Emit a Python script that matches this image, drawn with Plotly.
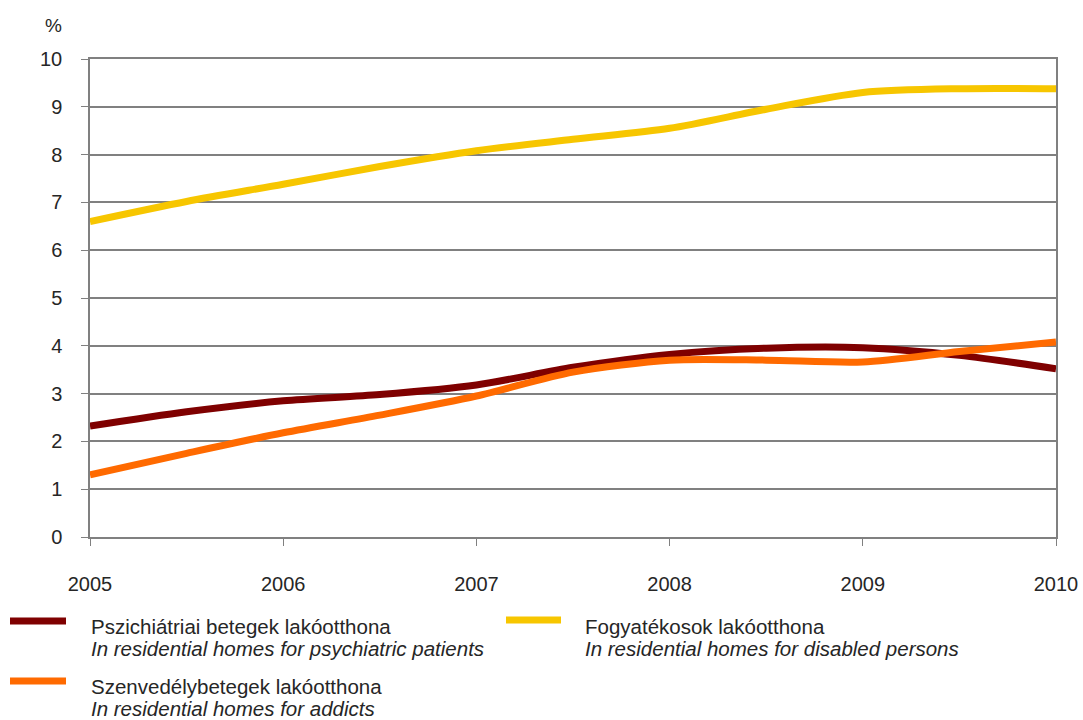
import plotly.graph_objects as go

years = [2005, 2005.5, 2006, 2006.5, 2007, 2007.5, 2008, 2008.5, 2009, 2009.5, 2010]

psychiatric = [2.32, 2.62, 2.85, 2.98, 3.18, 3.55, 3.82, 3.95, 3.96, 3.8, 3.52]
disabled = [6.6, 7.02, 7.38, 7.75, 8.08, 8.32, 8.55, 8.95, 9.3, 9.38, 9.38]
addicts = [1.3, 1.75, 2.18, 2.55, 2.95, 3.45, 3.7, 3.7, 3.66, 3.88, 4.08]

names_hu = ["Pszichiátriai betegek lakóotthona", "Fogyatékosok lakóotthona", "Szenvedélybetegek lakóotthona"]
names_en = [
    "In residential homes for psychiatric patients",
    "In residential homes for disabled persons",
    "In residential homes for addicts",
]
colors = ["#7f0000", "#f7c600", "#ff6a00"]

FONT = "Liberation Sans, Arial, sans-serif"
TXT = "#262626"

# plot area in pixels
L, R, T, B = 90, 1056, 59, 537


def px_x(x):
    return (x - L) / (R - L)


def px_y(y):
    return (B - y) / (B - T)


fig = go.Figure()
for vals, name, col in zip([psychiatric, disabled, addicts], names_hu, colors):
    fig.add_trace(
        go.Scatter(
            x=years,
            y=vals,
            mode="lines",
            name=name,
            showlegend=False,
            line=dict(color=col, width=7, shape="spline", smoothing=0.8),
        )
    )

# hand-placed legend: (sample x0, x1, y, text x, text y)
legend_pos = [(10, 66, 621, 92, 626), (506, 561, 620, 586, 626), (10, 66, 681, 92, 686)]
shapes = []
annotations = []
for (x0, x1, y, tx, ty), hu, en, col in zip(legend_pos, names_hu, names_en, colors):
    shapes.append(
        dict(type="line", xref="paper", yref="paper", x0=px_x(x0), x1=px_x(x1),
             y0=px_y(y), y1=px_y(y), line=dict(color=col, width=7))
    )
    annotations.append(
        dict(text=hu, xref="paper", yref="paper", x=px_x(tx - 3), y=px_y(ty),
             xanchor="left", yanchor="middle", showarrow=False,
             font=dict(family=FONT, size=20.5, color=TXT))
    )
    annotations.append(
        dict(text="<i>" + en + "</i>", xref="paper", yref="paper", x=px_x(tx - 3), y=px_y(ty + 22),
             xanchor="left", yanchor="middle", showarrow=False,
             font=dict(family=FONT, size=20.5, color=TXT))
    )

annotations.append(
    dict(text="%", xref="paper", yref="paper", x=px_x(53), y=px_y(25),
         xanchor="center", yanchor="middle", showarrow=False,
         font=dict(family=FONT, size=19, color=TXT))
)

fig.update_layout(
    width=1083,
    height=720,
    paper_bgcolor="white",
    plot_bgcolor="white",
    margin=dict(l=L, r=1083 - R, t=T, b=720 - B),
    font=dict(family=FONT, size=20, color=TXT),
    showlegend=False,
    xaxis=dict(
        range=[2005, 2010],
        tickvals=[2005, 2006, 2007, 2008, 2009, 2010],
        ticktext=["2005", "2006", "2007", "2008", "2009", "2010"],
        showgrid=False,
        showline=True,
        linecolor="#808080",
        linewidth=1.5,
        mirror=True,
        ticks="outside",
        ticklen=7,
        tickcolor="#808080",
        ticklabelstandoff=21,
        zeroline=False,
        automargin=False,
    ),
    yaxis=dict(
        range=[0, 10],
        dtick=1,
        showgrid=True,
        gridcolor="#808080",
        gridwidth=1.5,
        showline=True,
        linecolor="#808080",
        linewidth=1.5,
        mirror=True,
        ticks="outside",
        ticklen=7,
        tickcolor="#808080",
        ticklabelstandoff=15,
        zeroline=False,
        automargin=False,
    ),
    shapes=shapes,
    annotations=annotations,
)

fig.write_html(
    "out.html",
    config={"displayModeBar": False},
    post_script="document.body.style.margin='0';",
)
